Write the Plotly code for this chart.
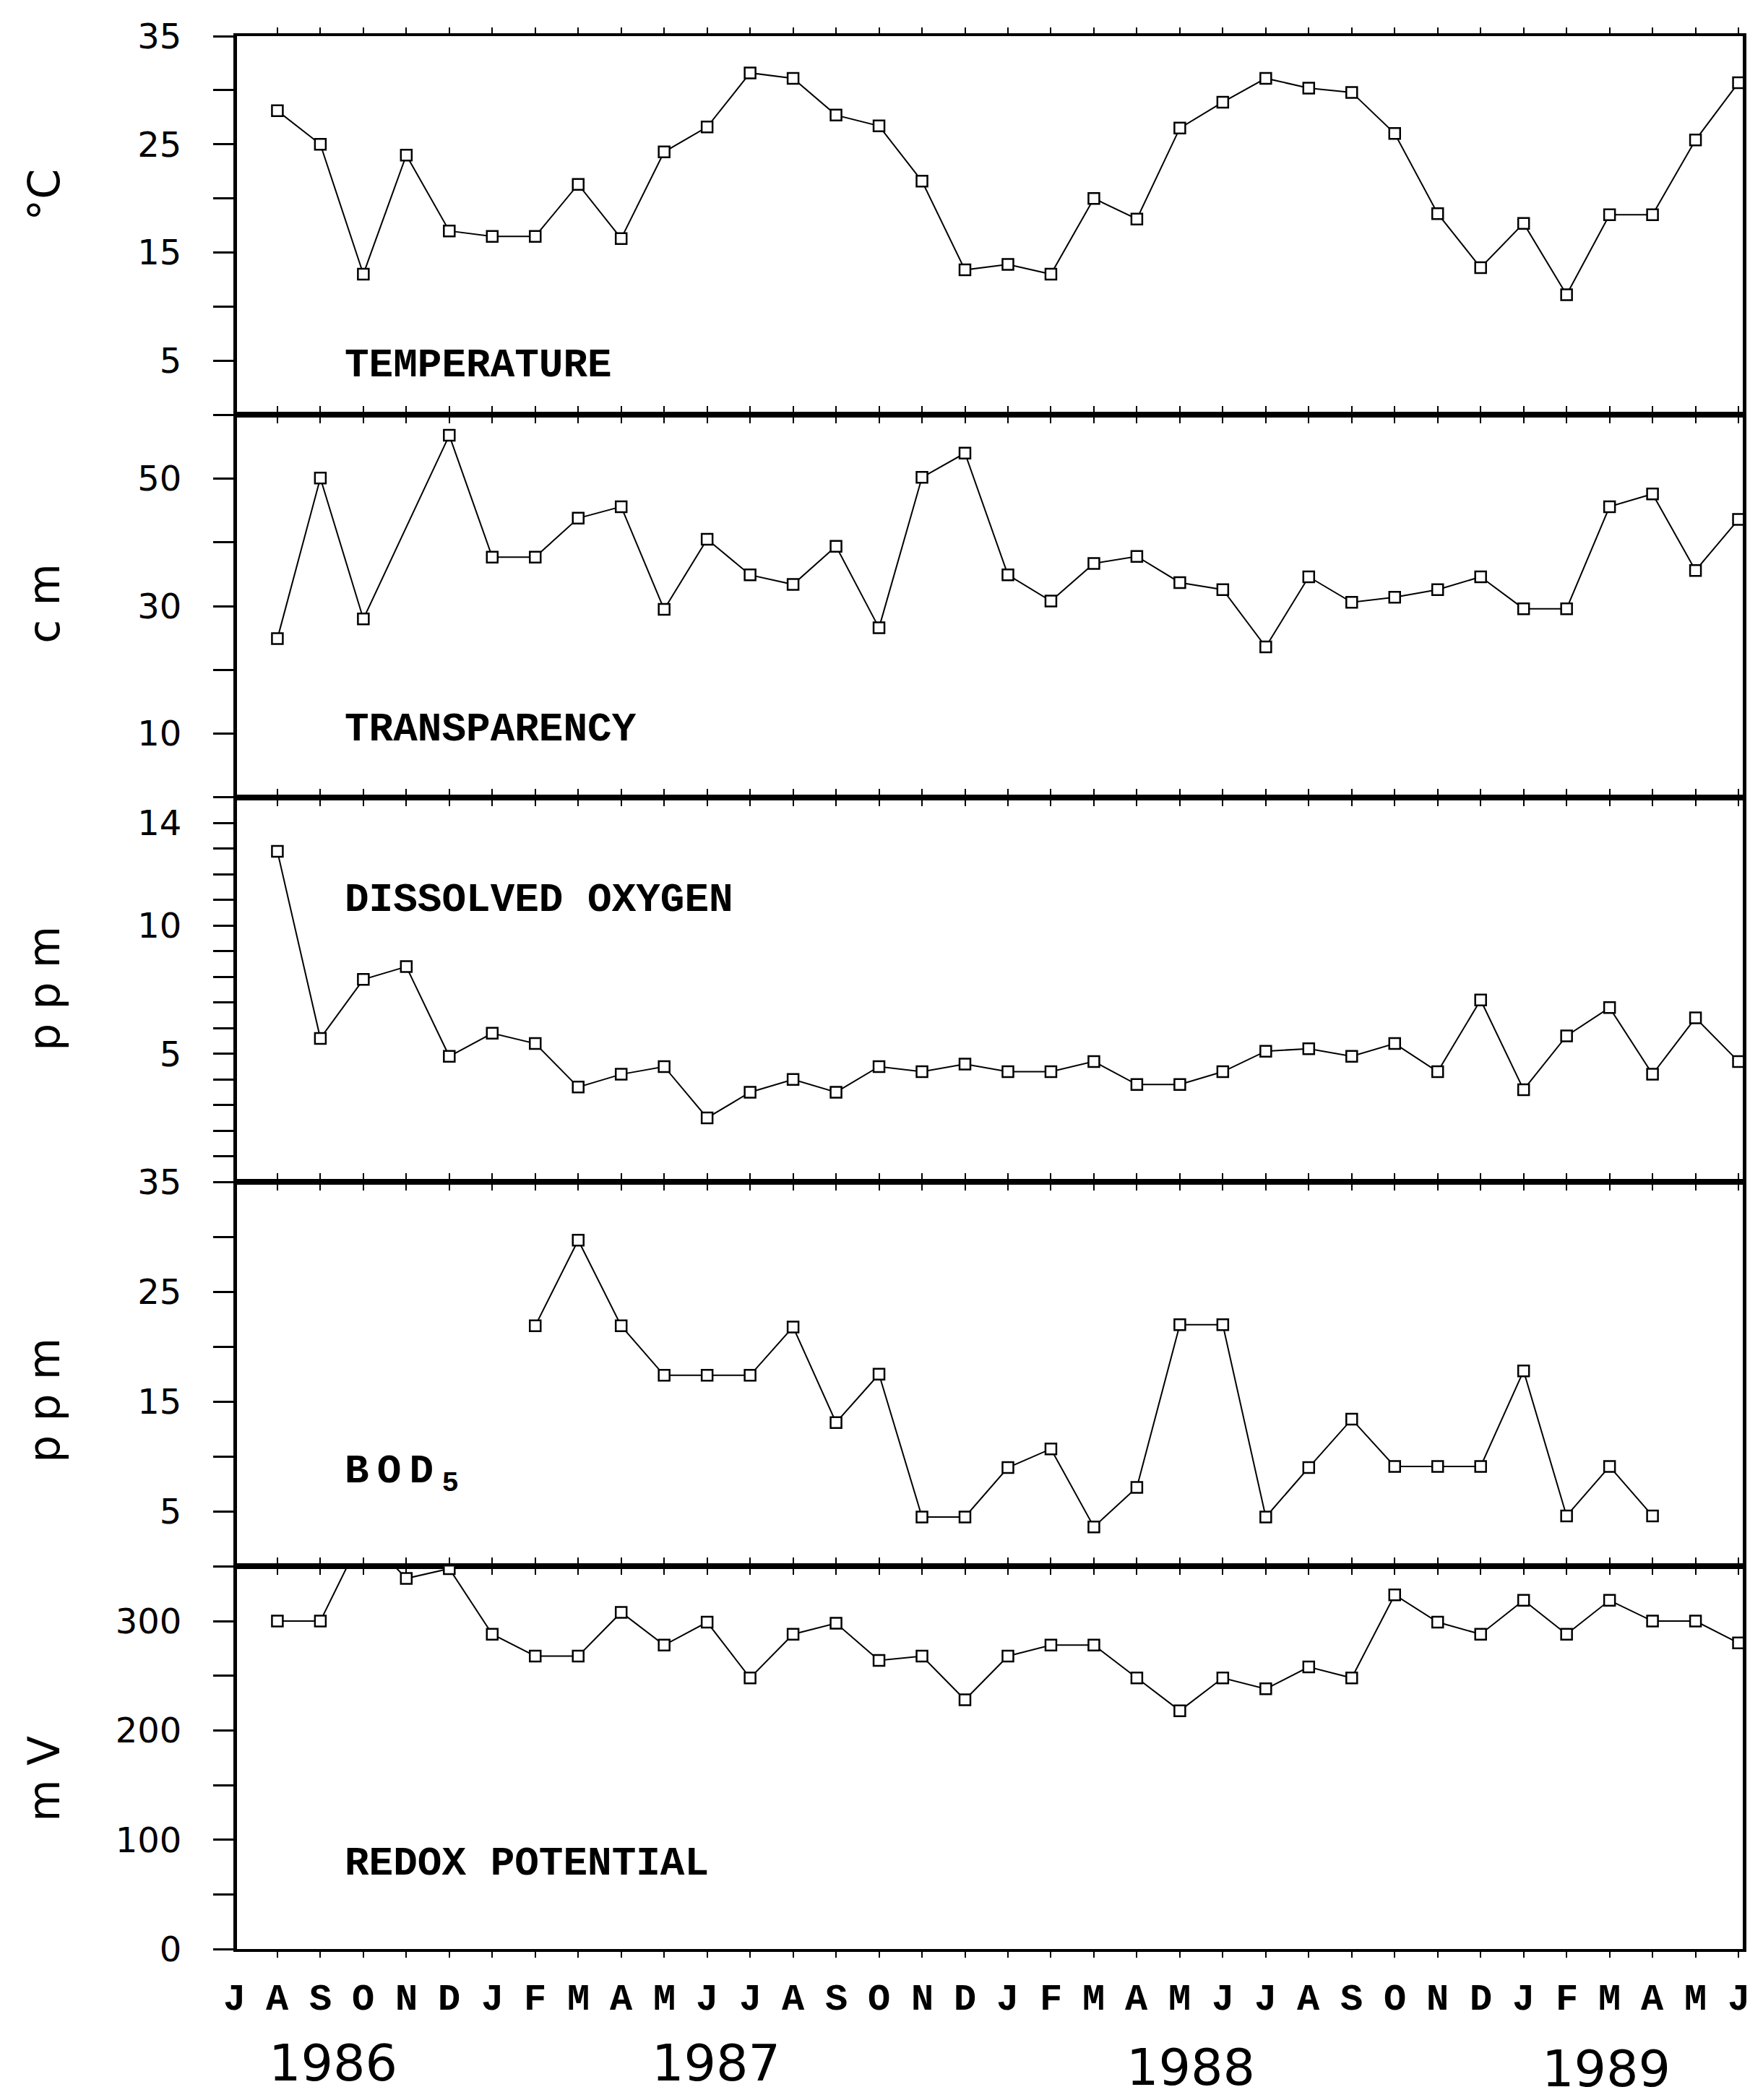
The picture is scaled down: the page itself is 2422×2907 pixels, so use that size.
import plotly.graph_objects as go

# ---------------- data ----------------
# month letters along the time axis: first "J" = July 1986 (index -1),
# samples run from August 1986 (index 0) to June 1989 (index 34)
months = ["J", "A", "S", "O", "N", "D", "J", "F", "M", "A", "M", "J",
          "J", "A", "S", "O", "N", "D", "J", "F", "M", "A", "M", "J",
          "J", "A", "S", "O", "N", "D", "J", "F", "M", "A", "M", "J"]
month_idx = list(range(-1, 35))
sample_idx = list(range(0, 35))

years = ["1986", "1987", "1988", "1989"]
year_pos = [1.3, 10.2, 21.25, 30.92]

temperature = [28.1, 25.0, 13.0, 24.0, 17.0, 16.5, 16.5, 21.3, 16.3, 24.3,
               26.6, 31.6, 31.1, 27.7, 26.7, 21.6, 13.4, 13.9, 13.0, 20.0,
               18.1, 26.5, 28.9, 31.1, 30.2, 29.8, 26.0, 18.6, 13.6, 17.7,
               11.1, 18.5, 18.5, 25.4, 30.7]

transparency = [24.9, 50.1, 28.0, None, 56.8, 37.7, 37.7, 43.8, 45.6, 29.5,
                40.5, 34.9, 33.4, 39.4, 26.6, 50.2, 54.0, 34.9, 30.8, 36.7,
                37.8, 33.7, 32.6, 23.6, 34.6, 30.6, 31.4, 32.6, 34.6, 29.6,
                29.6, 45.6, 47.6, 35.6, 43.6]

dissolved_oxygen = [12.9, 5.6, 7.9, 8.4, 4.9, 5.8, 5.4, 3.7, 4.2, 4.5,
                    2.5, 3.5, 4.0, 3.5, 4.5, 4.3, 4.6, 4.3, 4.3, 4.7,
                    3.8, 3.8, 4.3, 5.1, 5.2, 4.9, 5.4, 4.3, 7.1, 3.6,
                    5.7, 6.8, 4.2, 6.4, 4.7]

bod5 = [None, None, None, None, None, None, 21.9, 29.7, 21.9, 17.4,
        17.4, 17.4, 21.8, 13.1, 17.5, 4.5, 4.5, 9.0, 10.7, 3.6,
        7.2, 22.0, 22.0, 4.5, 9.0, 13.4, 9.1, 9.1, 9.1, 17.8,
        4.6, 9.1, 4.6, None, None]

redox = [300, 300, 380, 339, 348, 288, 268, 268, 308, 278,
         299, 248, 288, 298, 264, 268, 228, 268, 278, 278,
         248, 218, 248, 238, 258, 248, 324, 299, 288, 319,
         288, 319, 300, 300, 280]

units = ["°C", "c m", "p p m", "p p m", "m V"]
panel_names = ["TEMPERATURE", "TRANSPARENCY", "DISSOLVED OXYGEN",
               "B\u2009O\u2009D\u2009<sub>5</sub>", "REDOX POTENTIAL"]
series = [temperature, transparency, dissolved_oxygen, bod5, redox]
y_ranges = [[0, 35], [0, 60], [0, 15], [0, 35], [0, 350]]
y_ticks = [[5, 15, 25, 35], [10, 30, 50], [5, 10, 14], [5, 15, 25, 35], [0, 100, 200, 300]]
y_minor = [5, 10, 1, 5, 50]

# ---------------- layout geometry (pixels of the 2422 x 2907 page) ----------------
W, H = 2422, 2907
L, R, T, B = 328, 5, 50, 209
PLOT_H = H - T - B
BOTTOM_PX = H - B
X_RANGE = [-0.94, 34.1]


def py(ypx):
    """page pixel y -> paper coordinate"""
    return (BOTTOM_PX - ypx) / PLOT_H


def px(xpx):
    return (xpx - L) / (W - L - R)


def xdata_to_paper(v):
    return (v - X_RANGE[0]) / (X_RANGE[1] - X_RANGE[0])


domains = [[0.802, 1.0], [0.602, 0.802], [0.401, 0.602], [0.2, 0.401], [0.0, 0.2]]
unit_y = [270, 835, 1368, 1938, 2462]
label_y = [506, 1010, 1246, 2040, 2580]

mono = "Liberation Mono, Courier New, DejaVu Sans Mono, monospace"
sans = "DejaVu Sans, Liberation Sans, Arial, sans-serif"

fig = go.Figure()
annotations = []
layout = dict(
    width=W, height=H,
    margin=dict(l=L, r=R, t=T, b=B, pad=0),
    paper_bgcolor="white", plot_bgcolor="white",
    showlegend=False,
)

for k in range(5):
    n = "" if k == 0 else str(k + 1)
    fig.add_trace(go.Scatter(
        x=sample_idx, y=series[k], xaxis="x" + n, yaxis="y" + n,
        mode="lines+markers", connectgaps=True, cliponaxis=True,
        line=dict(color="black", width=2),
        marker=dict(symbol="square", size=15, color="white",
                    line=dict(color="black", width=2.5)),
        hoverinfo="skip",
    ))
    layout["xaxis" + n] = dict(
        domain=[0, 1], anchor="y" + n, range=X_RANGE,
        showline=True, linecolor="black", linewidth=4, mirror="ticks",
        ticks="outside", tickvals=sample_idx, ticklen=8, tickwidth=2,
        tickcolor="black", showticklabels=False, showgrid=False, zeroline=False,
        **({} if k == 4 else dict(matches="x5")),
    )
    layout["yaxis" + n] = dict(
        domain=domains[k], anchor="x" + n, range=y_ranges[k],
        showline=True, linecolor="black", linewidth=5, mirror=True,
        ticks="outside", tickvals=y_ticks[k], ticklen=28, tickwidth=3,
        tickcolor="black", ticklabelstandoff=34,
        minor=dict(dtick=y_minor[k], tick0=0, ticks="outside", ticklen=28,
                   tickwidth=3, tickcolor="black", showgrid=False),
        tickfont=dict(family=sans, size=48, color="black"),
        showgrid=False, zeroline=False,
    )
    annotations.append(dict(
        xref="paper", yref="paper", x=px(60), y=py(unit_y[k]),
        text=units[k], textangle=-90, showarrow=False,
        xanchor="center", yanchor="middle",
        font=dict(family=sans, size=60, color="black"),
    ))
    annotations.append(dict(
        xref="paper", yref="paper", x=xdata_to_paper(1.53), y=py(label_y[k]),
        text=panel_names[k], showarrow=False, xanchor="left", yanchor="middle",
        font=dict(family=mono, size=56, color="black", weight="bold"),
    ))

for m, i in zip(months, month_idx):
    annotations.append(dict(
        xref="paper", yref="paper", x=xdata_to_paper(i), y=py(2768), text=m,
        showarrow=False, xanchor="center", yanchor="middle",
        font=dict(family=mono, size=52, color="black", weight="bold"),
    ))

year_y = [2856, 2856, 2862, 2864]
for yr, xp, yy in zip(years, year_pos, year_y):
    annotations.append(dict(
        xref="paper", yref="paper", x=xdata_to_paper(xp), y=py(yy), text=yr,
        showarrow=False, xanchor="center", yanchor="middle",
        font=dict(family=sans, size=70, color="black"),
    ))

layout["annotations"] = annotations
fig.update_layout(**layout)
fig.write_html("out.html")
